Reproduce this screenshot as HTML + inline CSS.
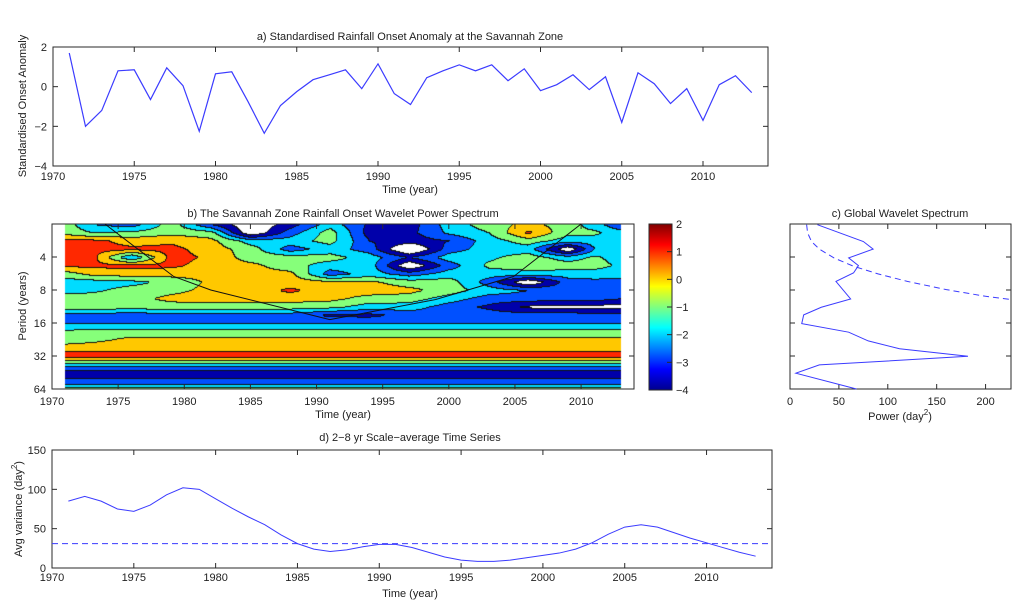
<!DOCTYPE html>
<html><head><meta charset="utf-8"><style>
html,body{margin:0;padding:0;background:#fff;}
#wrap{position:relative;width:1024px;height:604px;overflow:hidden;font-family:"Liberation Sans",sans-serif;}
#hm{position:absolute;left:0;top:0;}
#chart{position:absolute;left:0;top:0;}
text{font-family:"Liberation Sans",sans-serif;font-size:11px;fill:#222;}
</style></head><body>
<div id="wrap">
<canvas id="hm" width="1024" height="604"></canvas>
<svg id="chart" width="1024" height="604" xmlns="http://www.w3.org/2000/svg">
<defs><linearGradient id="jet" x1="0" y1="1" x2="0" y2="0">
<stop offset="0" stop-color="#00008f"/><stop offset="0.125" stop-color="#0000ff"/><stop offset="0.375" stop-color="#00ffff"/><stop offset="0.625" stop-color="#ffff00"/><stop offset="0.875" stop-color="#ff0000"/><stop offset="1" stop-color="#800000"/></linearGradient></defs>
</svg></div>
<script>
// ---- data ----
const anomYears=[1971,1972,1973,1974,1975,1976,1977,1978,1979,1980,1981,1982,1983,1984,1985,1986,1987,1988,1989,1990,1991,1992,1993,1994,1995,1996,1997,1998,1999,2000,2001,2002,2003,2004,2005,2006,2007,2008,2009,2010,2011,2012,2013];
const anomValues=[1.7,-2.0,-1.2,0.8,0.85,-0.65,0.95,0.05,-2.25,0.65,0.75,-0.75,-2.35,-0.95,-0.25,0.35,0.6,0.85,-0.1,1.15,-0.35,-0.9,0.45,0.8,1.1,0.8,1.1,0.3,0.9,-0.2,0.1,0.6,-0.15,0.5,-1.8,0.7,0.15,-0.85,-0.1,-1.7,0.1,0.55,-0.3];
const varValues=[85,91,85,75,72,80,93,102,100,88,76,65,55,42,31,24,21,23,27,30,30,26,20,14,10,8.5,8.5,10,13,16,19,24,32,43,52,55,52,45,38,32,26,20,15];
const varSignif=31;
const gwsPeriod=[2.03,2.89,3.39,4.08,4.79,5.58,6.68,9.65,11.5,13.5,16.2,19.4,23.3,27.5,32.2,38.6,45.9,64];
const gwsPower=[28,75,85,60,70,65,47,62,32,14,12,60,80,112,182,30,6,68];
const sigPeriod=[2.03,2.41,2.89,3.39,4.08,4.86,5.70,6.68,7.94,9.13,9.78];
const sigPower=[17,18,22,30,45,65,90,120,160,200,226];
const coiYear=[1974,1979.2,1982,1991,1999,2004.9,2010];
const coiPeriod=[2,6.02,8,14.9,9.78,6.02,2];
const gridYears=[1971,1973,1976,1979,1982,1985,1988,1991,1994,1997,2000,2003,2006,2009,2011,2013];
const gridLog2Period=[1,1.25,1.5,1.75,2,2.25,2.5,2.75,3,3.25,3.5,3.75,4,4.25,4.5,4.75,5,5.25,5.5,5.75,6];
const powerGrid=[
[-0.5,-2.0,-2.5,-0.5,-3.0,-5.0,-3.5,-1.5,-3.2,-3.5,-1.5,-0.5,0.3,-0.5,-1.5,-3.0],
[-0.3,-1.0,-0.8,-0.3,-0.6,-5.0,-2.5,-0.5,-3.5,-3.3,-1.8,-1.0,1.2,-0.8,-0.8,-1.5],
[1.2,1.3,0.6,0.8,0.3,-1.5,-1.5,-0.6,-3.0,-3.5,-3.0,-1.5,-0.5,-1.5,-1.5,-1.5],
[1.3,1.4,1.2,1.3,0.5,-0.5,-2.5,-1.5,-2.5,-5.5,-2.5,-1.5,-1.5,-5.0,-2.0,-1.5],
[1.3,1.4,-2.0,1.4,0.8,-0.5,-0.5,-0.6,-1.5,-3.0,-1.5,-1.2,-0.5,-1.5,-0.8,-1.5],
[1.2,1.2,1.3,1.2,0.6,0.3,-0.6,-1.5,-1.5,-5.0,-2.5,-0.8,-0.4,-0.5,-0.6,-1.2],
[-0.5,0.3,0.5,0.4,0.3,0.4,0.3,-2.5,-1.5,-2.5,-1.5,-1.5,-1.5,-1.5,-1.5,-1.7],
[-1.5,-1.5,-1.3,-0.7,0.2,0.5,0.5,0.3,0.2,-0.5,-0.5,-2.5,-5.0,-2.5,-2.3,-2.3],
[-1.3,-1.2,-0.6,-0.3,0.3,0.5,1.2,0.5,0.5,0.3,-0.5,-1.5,-2.0,-2.5,-2.5,-2.5],
[-0.5,-0.5,-0.4,0.3,0.5,0.5,0.4,0.3,-0.4,-0.5,-1.5,-2.5,-2.5,-2.7,-2.6,-3.0],
[-0.5,-0.5,-0.5,-0.5,-0.5,-0.5,-0.5,-0.7,-1.5,-1.5,-2.5,-3.2,-4.2,-4.3,-4.4,-4.4],
[-2.5,-2.5,-2.6,-2.5,-2.5,-2.4,-2.5,-3.2,-3.3,-2.6,-2.5,-2.5,-2.5,-2.5,-2.5,-2.5],
[-2.0,-2.0,-2.0,-2.0,-2.0,-2.0,-2.0,-2.0,-2.0,-2.0,-2.0,-2.0,-2.0,-2.0,-2.0,-2.0],
[-0.8,-0.6,-0.6,-0.6,-0.6,-0.6,-0.6,-0.6,-0.6,-0.6,-0.6,-0.6,-0.6,-0.6,-0.6,-0.6],
[-0.7,-0.3,0.3,0.3,0.3,0.3,0.3,0.3,0.3,0.3,0.3,0.3,0.3,0.3,0.3,0.2],
[0.7,0.7,0.7,0.7,0.7,0.7,0.7,0.7,0.7,0.7,0.7,0.7,0.7,0.7,0.7,0.6],
[1.5,1.5,1.5,1.5,1.5,1.5,1.5,1.5,1.5,1.5,1.5,1.5,1.5,1.5,1.5,1.5],
[-1.5,-1.5,-1.5,-1.5,-1.5,-1.5,-1.5,-1.5,-1.5,-1.5,-1.5,-1.5,-1.5,-1.5,-1.5,-1.5],
[-3.5,-3.5,-3.5,-3.5,-3.5,-3.5,-3.5,-3.5,-3.5,-3.5,-3.5,-3.5,-3.5,-3.5,-3.5,-3.5],
[-2.8,-2.8,-2.8,-2.8,-2.8,-2.8,-2.8,-2.8,-2.8,-2.8,-2.8,-2.8,-2.8,-2.8,-2.8,-2.8],
[-0.5,-0.5,-0.5,-0.5,-0.5,-0.5,-0.5,-0.5,-0.5,-0.5,-0.5,-0.5,-0.5,-0.5,-0.5,-0.5]];
const yearTicks=[1970,1975,1980,1985,1990,1995,2000,2005,2010];
const anomTicks=[-4,-2,0,2];
const periodTicks=[4,8,16,32,64];
const powerTicks=[0,50,100,150,200];
const varTicks=[0,50,100,150];
const cbarTicks=[2,1,0,-1,-2,-3,-4];

// ---- helpers ----
const NS='http://www.w3.org/2000/svg';
const svg=document.getElementById('chart');
function mk(tag,attrs){const e=document.createElementNS(NS,tag);for(const k in attrs)e.setAttribute(k,attrs[k]);svg.appendChild(e);return e;}
function txt(s,x,y,anchor,rot){const t=mk('text',{x:x,y:y,'text-anchor':anchor||'middle'});if(rot)t.setAttribute('transform','rotate(-90 '+x+' '+y+')');t.innerHTML=s;return t;}
const BLUE='#3b3bff', AX='#2a2a2a';
function box(x0,y0,x1,y1,name){const r=mk('rect',{x:x0,y:y0,width:x1-x0,height:y1-y0,fill:'none',stroke:AX,'stroke-width':1});

}
function xtick(x,y0,y1){[[y1,y1-5],[y0,y0+5]].forEach(p=>{const l=mk('line',{x1:x,x2:x,y1:p[0],y2:p[1],stroke:AX});

});}
function ytick(y,x0,x1){[[x0,x0+5],[x1,x1-5]].forEach(p=>{const l=mk('line',{x1:p[0],x2:p[1],y1:y,y2:y,stroke:AX});

});}

// ---- panel a ----
const A={x0:53,x1:768,y0:47,y1:166};
const xa=v=>A.x0+(v-1970)*(A.x1-A.x0)/44;
const ya=v=>A.y1-(v+4)*(A.y1-A.y0)/6;
box(A.x0,A.y0,A.x1,A.y1,'anomaly-axes');
yearTicks.forEach(t=>{xtick(xa(t),A.y0,A.y1);const l=txt(t,xa(t),180);

});
anomTicks.forEach(t=>{ytick(ya(t),A.x0,A.x1);const l=txt(t<0?'−'+(-t):t,47,ya(t)+4,'end');

});
const pa=mk('polyline',{points:anomYears.map((y,i)=>xa(y)+','+ya(anomValues[i])).join(' '),fill:'none',stroke:BLUE,'stroke-width':1.2});


let t1=txt('a) Standardised Rainfall Onset Anomaly at the Savannah Zone',410,40);


let t2=txt('Time (year)',410,193);


let t3=txt('Standardised Onset Anomaly',26,106,'middle',true);



// ---- panel b ----
const B={x0:52,x1:634,y0:224,y1:389};
const xb=v=>B.x0+(v-1970)*(B.x1-B.x0)/44;
const yb=p=>B.y0+(Math.log2(p)-1)*(B.y1-B.y0)/5;
const COLS=['#0000aa','#0050ff','#00dcff','#86ff7a','#ffc800','#ff2800'];
(function(){
 const ctx=document.getElementById('hm').getContext('2d');
 const xs=Math.round(xb(1971)), xe=Math.round(xb(2013));
 const W=xe-xs, H=B.y1-B.y0;
 const lev=[];
 function interp(year,lp){
  let i=0;while(i<gridYears.length-2&&year>gridYears[i+1])i++;
  let tx=(year-gridYears[i])/(gridYears[i+1]-gridYears[i]);tx=Math.max(0,Math.min(1,tx));
  let j=Math.floor((lp-1)/0.25);j=Math.max(0,Math.min(gridLog2Period.length-2,j));
  let ty=(lp-gridLog2Period[j])/0.25;ty=Math.max(0,Math.min(1,ty));
  const a=powerGrid[j][i],b=powerGrid[j][i+1],c=powerGrid[j+1][i],d=powerGrid[j+1][i+1];
  return a*(1-tx)*(1-ty)+b*tx*(1-ty)+c*(1-tx)*ty+d*tx*ty;}
 for(let r=0;r<H;r++){lev.push([]);for(let c=0;c<W;c++){
  const year=1970+(xs+c+0.5-B.x0)*44/(B.x1-B.x0);
  const lp=1+(r+0.5)*5/H;
  const v=interp(year,lp);
  lev[r].push(v<-4?-1:Math.min(5,Math.floor(v+4)));}}
 for(let r=0;r<H;r++)for(let c=0;c<W;c++){
  const L=lev[r][c];
  let edge=(c>0&&lev[r][c-1]!==L)||(r>0&&lev[r-1][c]!==L);
  ctx.fillStyle=edge?'#111':(L<0?'#ffffff':COLS[L]);
  ctx.fillRect(xs+c,B.y0+r,1,1);}
})();
box(B.x0,B.y0,B.x1,B.y1,'wavelet-axes');
yearTicks.forEach(t=>{xtick(xb(t),B.y0,B.y1);const l=txt(t,xb(t),405);

});
periodTicks.forEach(t=>{ytick(yb(t),B.x0,B.x1);const l=txt(t,46,yb(t)+4,'end');

});
const coi=mk('polyline',{points:coiYear.map((y,i)=>xb(y)+','+yb(coiPeriod[i])).join(' '),fill:'none',stroke:'#111','stroke-width':1});


let t4=txt('b) The Savannah Zone Rainfall Onset Wavelet Power Spectrum',343,217);


let t5=txt('Time (year)',343,418);


let t6=txt('Period (years)',26,306,'middle',true);


// colorbar
const cb=mk('rect',{x:649,y:224,width:23,height:166,fill:'url(#jet)',stroke:AX});


cbarTicks.forEach(t=>{const y=224+(2-t)*166/6;
const l=mk('line',{x1:667,x2:672,y1:y,y2:y,stroke:AX});


const s=txt(t<0?'−'+(-t):t,676,y+4,'start');

});

// ---- panel c ----
const C={x0:790,x1:1011,y0:224,y1:389};
const xc=v=>C.x0+v*(C.x1-C.x0)/226;
box(C.x0,C.y0,C.x1,C.y1,'global-spectrum-axes');
powerTicks.forEach(t=>{xtick(xc(t),C.y0,C.y1);const l=txt(t,xc(t),405);

});
periodTicks.forEach(t=>ytick(yb(t),C.x0,C.x1));
const gs=mk('polyline',{points:gwsPeriod.map((p,i)=>xc(gwsPower[i])+','+yb(p)).join(' '),fill:'none',stroke:BLUE,'stroke-width':1});


const sg=mk('polyline',{points:sigPeriod.map((p,i)=>xc(sigPower[i])+','+yb(p)).join(' '),fill:'none',stroke:BLUE,'stroke-width':1,'stroke-dasharray':'6,4'});


let t7=txt('c) Global Wavelet Spectrum',900,217);


let t8=txt('Power (day<tspan dy="-5" font-size="8">2</tspan><tspan dy="5">)</tspan>',900,420);



// ---- panel d ----
const D={x0:52,x1:772,y0:450,y1:568};
const xd=v=>D.x0+(v-1970)*(D.x1-D.x0)/44;
const yd=v=>D.y1-v*(D.y1-D.y0)/150;
box(D.x0,D.y0,D.x1,D.y1,'variance-axes');
yearTicks.forEach(t=>{xtick(xd(t),D.y0,D.y1);const l=txt(t,xd(t),581);

});
varTicks.forEach(t=>{ytick(yd(t),D.x0,D.x1);const l=txt(t,46,yd(t)+4,'end');

});
const vl=mk('polyline',{points:anomYears.map((y,i)=>xd(y)+','+yd(varValues[i])).join(' '),fill:'none',stroke:BLUE,'stroke-width':1});


const vs=mk('line',{x1:D.x0,x2:D.x1,y1:yd(varSignif),y2:yd(varSignif),stroke:BLUE,'stroke-width':1,'stroke-dasharray':'6,4'});


let t9=txt('d) 2−8 yr Scale−average Time Series',410,441);


let t10=txt('Time (year)',410,597);


let t11=txt('Avg variance (day<tspan dy="-5" font-size="8">2</tspan><tspan dy="5">)</tspan>',22,509,'middle',true);


</script>
</body></html>
